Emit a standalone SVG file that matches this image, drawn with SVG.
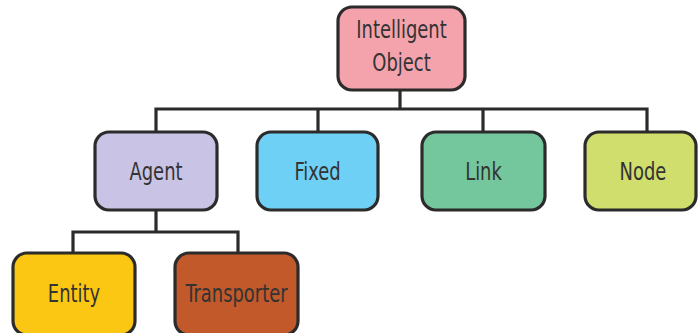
<svg xmlns="http://www.w3.org/2000/svg" width="698" height="333" viewBox="0 0 698 333">
  <style>
    .box { stroke: #2b2b2b; stroke-width: 3.2; }
    .lbl { font-family: "DejaVu Sans Condensed", "DejaVu Sans", sans-serif; font-size: 24px; fill: #333333; text-anchor: middle; }
    .wire { fill: none; stroke: #2b2b2b; stroke-width: 3.2; }
  </style>
  <rect width="698" height="333" fill="#ffffff"/>

  <!-- tree connectors -->
  <g id="connectors">
    <path class="wire" d="M400 90 V109"/>
    <path class="wire" d="M156 132 V109 H647 V132"/>
    <path class="wire" d="M318 109 V132"/>
    <path class="wire" d="M483 109 V132"/>
    <path class="wire" d="M156 210 V232"/>
    <path class="wire" d="M73 253 V232 H238 V253"/>
  </g>

  <!-- labels are narrowed horizontally for a condensed look -->
  <g id="intelligent-object">
    <rect class="box" x="338" y="7" width="127" height="83" rx="14" fill="#F4A3AD"/>
    <text class="lbl" transform="translate(401.5 38) scale(0.83 1)">Intelligent</text>
    <text class="lbl" transform="translate(401.5 71) scale(0.83 1)">Object</text>
  </g>

  <g id="agent">
    <rect class="box" x="95" y="132" width="122" height="78" rx="14" fill="#C9C4E6"/>
    <text class="lbl" transform="translate(156 180) scale(0.83 1)">Agent</text>
  </g>

  <g id="fixed">
    <rect class="box" x="257" y="132" width="121" height="78" rx="14" fill="#6FD0F5"/>
    <text class="lbl" transform="translate(317.5 180) scale(0.83 1)">Fixed</text>
  </g>

  <g id="link">
    <rect class="box" x="422" y="132" width="123" height="78" rx="14" fill="#74C79C"/>
    <text class="lbl" transform="translate(483.5 180) scale(0.83 1)">Link</text>
  </g>

  <g id="node">
    <rect class="box" x="585" y="132" width="111" height="78" rx="14" fill="#CFDE6C"/>
    <text class="lbl" transform="translate(643 180) scale(0.83 1)">Node</text>
  </g>

  <g id="entity">
    <rect class="box" x="13" y="253" width="122" height="82" rx="14" fill="#FCC712"/>
    <text class="lbl" transform="translate(74 302) scale(0.83 1)">Entity</text>
  </g>

  <g id="transporter">
    <rect class="box" x="175" y="253" width="123" height="82" rx="14" fill="#C1592A"/>
    <text class="lbl" transform="translate(236.5 302) scale(0.83 1)">Transporter</text>
  </g>
</svg>
